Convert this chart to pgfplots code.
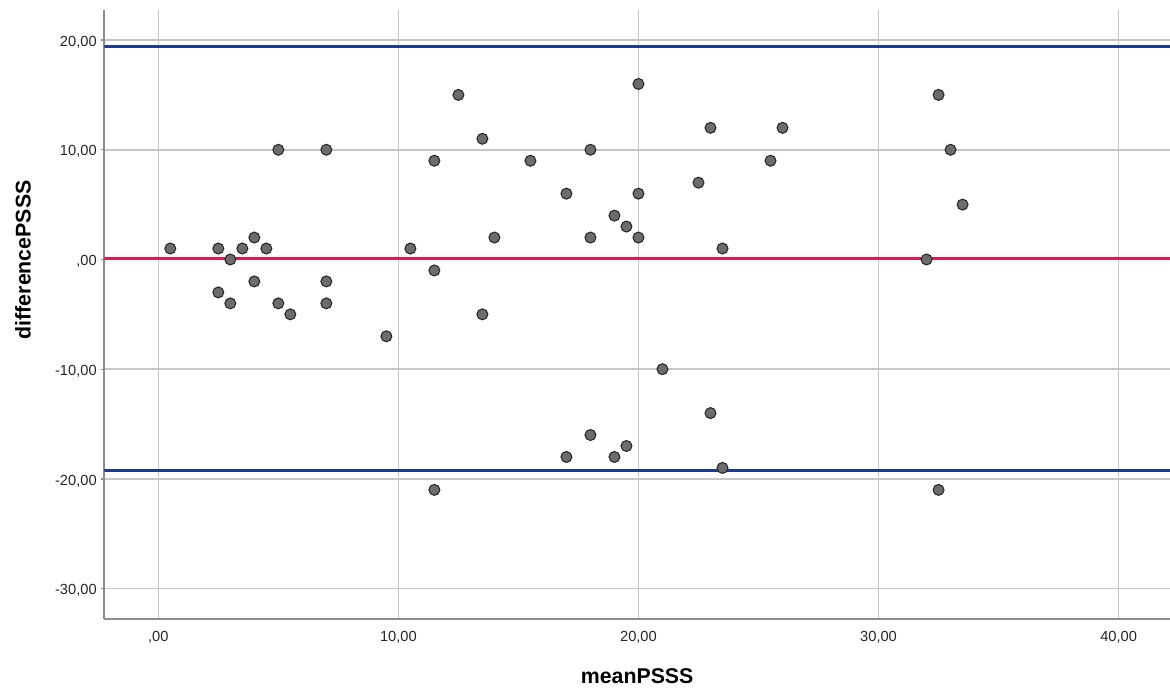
\documentclass[border=0pt]{standalone}
\usepackage{fontspec}
\setmainfont{Liberation Sans}
\usepackage{pgfplots}
\pgfplotsset{compat=1.18}

\definecolor{loablue}{RGB}{30,58,138}
\definecolor{meanred}{RGB}{218,28,78}
\definecolor{gridgray}{RGB}{198,198,198}
\definecolor{axisgray}{RGB}{140,140,140}
\definecolor{dotfill}{RGB}{108,108,108}
\definecolor{dotedge}{RGB}{40,40,40}

\begin{document}
\begin{tikzpicture}
\begin{axis}[
    at={(0,0)}, anchor=south west,
    scale only axis,
    width=799.3pt, height=457pt,
    xmin=-2.25, xmax=42.14,
    ymin=-32.8, ymax=22.74,
    axis x line*=bottom, axis y line*=left,
    axis line style={axisgray, line width=1.5pt},
    xtick={0,10,20,30,40},
    xticklabels={{,00},{10,00},{20,00},{30,00},{40,00}},
    ytick={-30,-20,-10,0,10,20},
    yticklabels={{-30,00},{-20,00},{-10,00},{,00},{10,00},{20,00}},
    grid=major,
    major grid style={gridgray, line width=1.1pt},
    tick align=outside,
    major tick length=2.5pt,
    xtick style={draw=none},
    ytick style={axisgray, line width=1pt},
    ticklabel style={font=\fontsize{11}{13}\selectfont, text=black!85},
    xticklabel style={inner sep=0pt, anchor=north, yshift=-6pt},
    yticklabel style={inner sep=0pt, anchor=east, xshift=-3pt, yshift=-1.5pt},
    xlabel={meanPSSS},
    ylabel={differencePSSS},
    xlabel style={at={(axis description cs:0.5,-0.093)}, anchor=center,
        font=\fontsize{16}{19}\selectfont\bfseries},
    ylabel style={at={(axis description cs:-0.0763,0.59)}, anchor=center,
        font=\fontsize{16}{19}\selectfont\bfseries},
]
% limits of agreement and mean difference
\addplot[loablue, line width=2pt] coordinates {(-2.25,19.40) (42.14,19.40)};
\addplot[loablue, line width=2pt] coordinates {(-2.25,-19.25) (42.14,-19.25)};
\addplot[meanred, line width=2pt] coordinates {(-2.25,0.07) (42.14,0.07)};

\addplot[only marks, mark=*, mark size=4.1pt,
    mark options={fill=dotfill, draw=dotedge, line width=0.8pt}] coordinates {
    (0.5,1) (2.5,1) (2.5,-3) (3,0) (3,-4) (3.5,1) (4,2) (4,-2) (4.5,1)
    (5,10) (5,-4) (5.5,-5) (7,10) (7,-2) (7,-4) (9.5,-7) (10.5,1)
    (11.5,9) (11.5,-1) (11.5,-21) (12.5,15) (13.5,11) (13.5,-5) (14,2)
    (15.5,9) (17,6) (17,-18) (18,10) (18,2) (18,-16) (19,4) (19,-18)
    (19.5,3) (19.5,-17) (20,16) (20,6) (20,2) (21,-10) (22.5,7) (23,12)
    (23,-14) (23.5,1) (23.5,-19) (25.5,9) (26,12) (32,0) (32.5,15)
    (32.5,-21) (33,10) (33.5,5)
};
\end{axis}
\pgfresetboundingbox
\path (-78.2pt,-53pt) rectangle (799.3pt,464.5pt);
\end{tikzpicture}
\end{document}
